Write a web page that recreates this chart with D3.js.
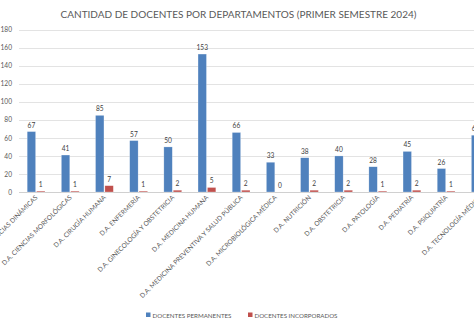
<!DOCTYPE html>
<html><head><meta charset="utf-8">
<script src="https://cdn.jsdelivr.net/npm/d3@7"></script>
<style>html,body{margin:0;padding:0;background:#fff;overflow:hidden}</style>
</head><body>
<svg id="c" width="474" height="324"></svg>
<script>
const title = "CANTIDAD DE DOCENTES POR DEPARTAMENTOS (PRIMER SEMESTRE 2024)";
const categories = [
  "D.A. CIENCIAS DINÁMICAS",
  "D.A. CIENCIAS MORFOLÓGICAS",
  "D.A. CIRUGÍA HUMANA",
  "D.A. ENFERMERÍA",
  "D.A. GINECOLOGÍA Y OBSTETRICIA",
  "D.A. MEDICINA HUMANA",
  "D.A. MEDICINA PREVENTIVA Y SALUD PÚBLICA",
  "D.A. MICROBIOLÓGICA MÉDICA",
  "D.A. NUTRICIÓN",
  "D.A. OBSTETRICIA",
  "D.A. PATOLOGÍA",
  "D.A. PEDIATRÍA",
  "D.A. PSIQUIATRÍA",
  "D.A. TECNOLOGÍA MÉDICA"
];
const seriesNames = ["DOCENTES PERMANENTES", "DOCENTES INCORPORADOS"];
const permanentes = [67, 41, 85, 57, 50, 153, 66, 33, 38, 40, 28, 45, 26, 63];
const incorporados = [1, 1, 7, 1, 2, 5, 2, 0, 2, 2, 1, 2, 1, 1];
const yTicks = [0, 20, 40, 60, 80, 100, 120, 140, 160, 180];
const colors = ["#4F81BD", "#C0504D"];

const svg = d3.select("#c");
const FONT = "Lato, 'Open Sans', sans-serif";
const TXT = "#595959";

function fit(sel, target) {
  const w = sel.node().getComputedTextLength();
  const fs = parseFloat(sel.attr("font-size"));
  sel.attr("font-size", (fs * target / w).toFixed(2));
}

const step = 34.17;
const plotLeft = 19;
const x0 = d3.scaleBand().domain(categories).range([plotLeft, plotLeft + step * categories.length]).padding(0);
const x1 = d3.scaleBand().domain(seriesNames).range([x0.bandwidth()/2 - 8.9, x0.bandwidth()/2 + 8.9]).paddingInner(0.1);
const y = d3.scaleLinear().domain([0, 180]).range([192, 29.7]);

// title
const t = svg.append("text").attr("x", 238.5).attr("y", 18).attr("text-anchor", "middle")
  .attr("font-family", FONT).attr("font-size", 10).attr("fill", TXT).text(title);
fit(t, 356);

// gridlines
const yAxis = d3.axisLeft(y).tickValues(yTicks).tickSize(0).tickPadding(0);
const ga = svg.append("g").attr("transform", `translate(12,0)`).call(yAxis);
ga.select(".domain").remove();
ga.selectAll("text").attr("font-family", FONT).attr("font-size", 6.6).attr("fill", TXT).attr("x", 0);

svg.append("g").selectAll("line").data(yTicks).join("line")
  .attr("x1", plotLeft).attr("x2", 480)
  .attr("y1", d => Math.round(y(d)) + 0.5).attr("y2", d => Math.round(y(d)) + 0.5)
  .attr("stroke", d => d === 0 ? "#d0d0d0" : "#e3e3e3").attr("stroke-width", 1);

// bars
const rows = categories.map((c, i) => ({cat: c, vals: [permanentes[i], incorporados[i]]}));
const groups = svg.append("g").selectAll("g").data(rows).join("g")
  .attr("transform", d => `translate(${x0(d.cat)},0)`);
groups.selectAll("rect").data(d => d.vals.map((v, k) => ({k, v}))).join("rect")
  .attr("x", d => x1(seriesNames[d.k])).attr("width", x1.bandwidth())
  .attr("y", d => y(d.v)).attr("height", d => y(0) - y(d.v))
  .attr("fill", d => colors[d.k]).attr("stroke", "#ffffff").attr("stroke-opacity", 0.5).attr("stroke-width", 0.5);
groups.selectAll("text.lbl").data(d => d.vals.map((v, k) => ({k, v}))).join("text")
  .attr("class", "lbl")
  .attr("x", d => x1(seriesNames[d.k]) + x1.bandwidth()/2)
  .attr("y", d => y(d.v) - 4)
  .attr("text-anchor", "middle").attr("font-family", FONT).attr("font-size", 6.6).attr("fill", "#404040")
  .text(d => d.v);

// category labels
const cl = svg.append("g").selectAll("text").data(categories).join("text")
  .attr("transform", d => `translate(${x0(d) + x0.bandwidth()/2 + 2},${198}) rotate(-45)`)
  .attr("text-anchor", "end").attr("font-family", FONT).attr("font-size", 7).attr("fill", TXT)
  .text(d => d);
// scale labels so "CIENCIAS MORFOLÓGICAS" is ~97px long
{
  const ref = cl.filter((d, i) => i === 1).node().getComputedTextLength();
  const fs = 7 * 96 / ref;
  cl.attr("font-size", fs.toFixed(2));
}

// legend
const leg = svg.append("g");
const lx = [146, 248];
seriesNames.forEach((s, k) => {
  leg.append("rect").attr("x", lx[k]).attr("y", 312.5).attr("width", 4.5).attr("height", 4.5).attr("fill", colors[k]);
  const tt = leg.append("text").attr("x", lx[k] + 6.5).attr("y", 317.5).attr("font-family", FONT)
    .attr("font-size", 7).attr("fill", TXT).text(s);
  fit(tt, k === 0 ? 79 : 83);
});
</script>
</body></html>
